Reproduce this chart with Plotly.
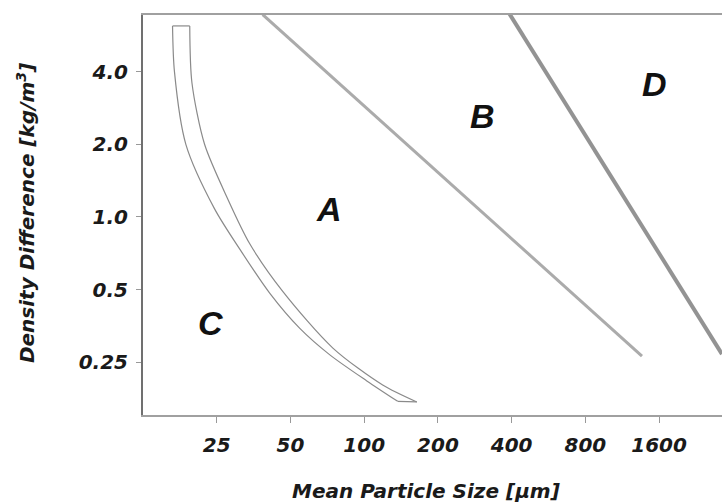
import plotly.graph_objects as go
import math

# ---- data ----
x_ticks = [25, 50, 100, 200, 400, 800, 1600]
x_tick_text = ["25", "50", "100", "200", "400", "800", "1600"]
y_ticks = [0.25, 0.5, 1.0, 2.0, 4.0]
y_tick_text = ["0.25", "0.5", "1.0", "2.0", "4.0"]

# A/C boundary band (closed outline): left edge top->bottom, right edge bottom->top
ac_left_x = [16.5, 16.8, 18.7, 24.5, 31.0, 41.2, 54.6, 72.4, 102.5, 137]
ac_left_y = [6.19, 4.0, 2.0, 1.08, 0.737, 0.482, 0.345, 0.268, 0.209, 0.172]
ac_right_x = [164, 119, 74.5, 46.5, 34.1, 27.7, 22.3, 19.8, 19.4]
ac_right_y = [0.171, 0.201, 0.286, 0.491, 0.774, 1.19, 2.0, 3.60, 6.19]

# A/B boundary
ab_x = [38.5, 1362]
ab_y = [6.9, 0.265]

# B/D boundary
bd_x = [390, 2890]
bd_y = [7.0, 0.27]

# Group labels
grp_names = ["A", "B", "C", "D"]
grp_x = [71.7, 305, 23.6, 1538]
grp_y = [1.08, 2.61, 0.362, 3.57]

x_range = [12.5, 2890]
y_range = [0.151, 6.87]

fig = go.Figure()

# left edge (straight cap at top, then curve)
fig.add_trace(go.Scatter(x=ac_left_x, y=ac_left_y, mode="lines",
                         line=dict(color="#8a8a8a", width=1.2, shape="spline", smoothing=0.8),
                         hoverinfo="skip", showlegend=False))
fig.add_trace(go.Scatter(x=ac_right_x, y=ac_right_y, mode="lines",
                         line=dict(color="#8a8a8a", width=1.2, shape="spline", smoothing=0.8),
                         hoverinfo="skip", showlegend=False))
# caps of the band
fig.add_trace(go.Scatter(x=[ac_left_x[0], ac_right_x[-1]], y=[ac_left_y[0], ac_right_y[-1]],
                         mode="lines", line=dict(color="#8a8a8a", width=1.2),
                         hoverinfo="skip", showlegend=False))
fig.add_trace(go.Scatter(x=[ac_left_x[-1], ac_right_x[0]], y=[ac_left_y[-1], ac_right_y[0]],
                         mode="lines", line=dict(color="#8a8a8a", width=1.2),
                         hoverinfo="skip", showlegend=False))
fig.add_trace(go.Scatter(x=ab_x, y=ab_y, mode="lines",
                         line=dict(color="#ababab", width=3),
                         hoverinfo="skip", showlegend=False))
fig.add_trace(go.Scatter(x=bd_x, y=bd_y, mode="lines",
                         line=dict(color="#939393", width=4),
                         hoverinfo="skip", showlegend=False))

for n, gx, gy in zip(grp_names, grp_x, grp_y):
    fig.add_annotation(x=math.log10(gx), y=math.log10(gy), xref="x", yref="y",
                       text=n, showarrow=False,
                       font=dict(family="Liberation Sans", size=34, color="#111111",
                                 weight="bold", style="italic"))

tick_font = dict(family="DejaVu Sans", size=20, color="#1a1a1a", weight="bold", style="italic")
title_font = dict(family="DejaVu Sans", size=20, color="#1a1a1a", weight="bold", style="italic")

fig.add_annotation(x=0.489, y=-0.19, xref="paper", yref="paper",
                   xanchor="center", yanchor="middle",
                   text="Mean Particle Size [\u03bcm]", showarrow=False, font=title_font)
fig.add_annotation(x=-0.202, y=0.505, xref="paper", yref="paper",
                   xanchor="center", yanchor="middle",
                   text="Density Difference [kg/m<sup>3</sup>]", showarrow=False,
                   textangle=-90, font=title_font)

fig.update_xaxes(type="log", range=[math.log10(x_range[0]), math.log10(x_range[1])],
                 tickvals=x_ticks, ticktext=x_tick_text, tickfont=tick_font,
                 showgrid=False, zeroline=False, showline=True, linecolor="#a0a0a0",
                 linewidth=1.5, mirror=True, ticks="outside", ticklen=6, tickwidth=1,
                 tickcolor="#999999", ticklabelstandoff=5)
fig.update_yaxes(type="log", range=[math.log10(y_range[0]), math.log10(y_range[1])],
                 tickvals=y_ticks, ticktext=y_tick_text, tickfont=tick_font,
                 showgrid=False, zeroline=False, showline=True, linecolor="#707070",
                 linewidth=2, ticks="outside", ticklen=5, tickwidth=1,
                 tickcolor="#999999", ticklabelstandoff=4)

fig.update_layout(width=722, height=502, margin=dict(l=143, r=0, t=15, b=87),
                  paper_bgcolor="white", plot_bgcolor="white", showlegend=False)

fig.write_html("out.html")
